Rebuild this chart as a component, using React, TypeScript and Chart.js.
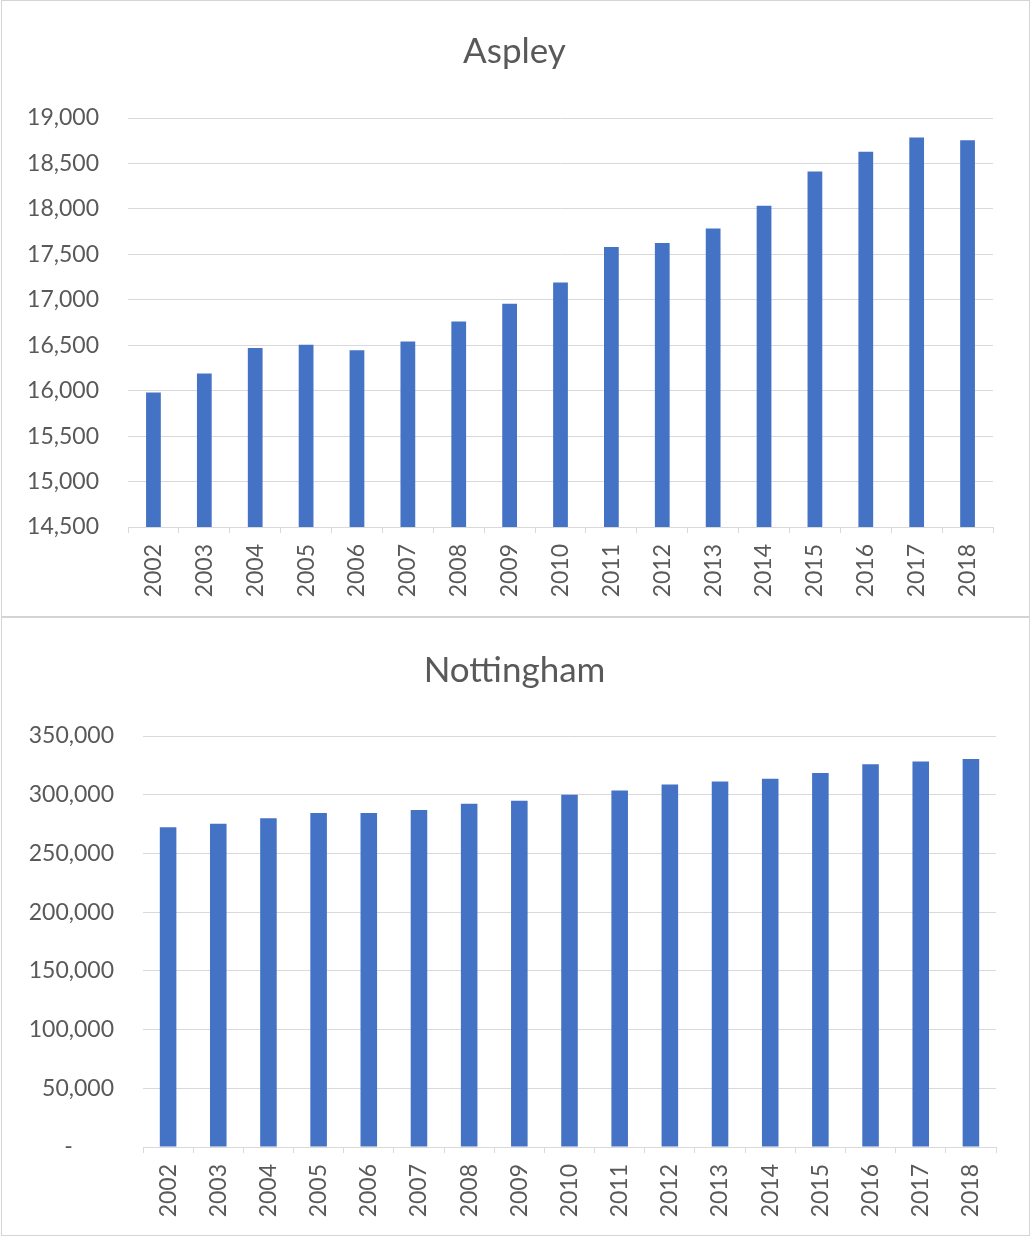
import React, { useEffect, useRef } from "react";
import { Chart, registerables } from "chart.js";

Chart.register(...registerables);

// Mid-year population estimates, 2002–2018
const years = [
  "2002", "2003", "2004", "2005", "2006", "2007", "2008", "2009", "2010",
  "2011", "2012", "2013", "2014", "2015", "2016", "2017", "2018",
];

const aspleyPopulation = [
  15980, 16190, 16470, 16505, 16445, 16540, 16760, 16955, 17190,
  17580, 17625, 17785, 18035, 18410, 18630, 18785, 18755,
];

const nottinghamPopulation = [
  272300, 275200, 279900, 284500, 284500, 287000, 292400, 294900, 300000,
  303600, 308700, 311300, 313600, 318400, 326000, 328200, 330500,
];

// Value-axis ranges: [min, max, step]
const aspleyAxis = [14500, 19000, 500];
const nottinghamAxis = [0, 350000, 50000];

const FONT = "Lato, 'Open Sans', sans-serif";
const TEXT = "#595959";
const GRID = "#d9d9d9";
const BAR = "#4472c4";

type Props = {
  title: string;
  values: number[];
  axis: number[];
  left: number;
  top: number;
  width: number;
  height: number;
  yWidth: number;
  padRight: number;
  plotTop: number;
  axisHeight: number;
  titleY: number;
  barPct: number;
};

// Chart title centred on the whole canvas rather than on the padded layout box
const centredTitle = {
  id: "centredTitle",
  afterDraw(chart: any, _args: any, opts: any) {
    const { ctx, width } = chart;
    ctx.save();
    ctx.font = `normal 35px ${FONT}`;
    ctx.fillStyle = TEXT;
    ctx.textAlign = "center";
    ctx.textBaseline = "middle";
    ctx.fillText(opts.text, width / 2, opts.y);
    ctx.restore();
  },
};

function PopulationChart(p: Props) {
  const ref = useRef<HTMLCanvasElement | null>(null);

  useEffect(() => {
    if (!ref.current) return;
    const [min, max, step] = p.axis;
    const tickFont = { family: FONT, size: 23 };
    const chart = new Chart(ref.current, {
      type: "bar",
      data: {
        labels: years,
        datasets: [
          {
            data: p.values,
            backgroundColor: BAR,
            borderWidth: 0,
            barPercentage: p.barPct,
            categoryPercentage: 1,
          },
        ],
      },
      options: {
        responsive: false,
        animation: false,
        layout: { padding: { left: 0, right: p.padRight, top: p.plotTop, bottom: 0 } },
        plugins: {
          legend: { display: false },
          tooltip: { enabled: false },
          title: { display: false },
          centredTitle: { text: p.title, y: p.titleY },
        },
        scales: {
          x: {
            grid: {
              display: true,
              drawOnChartArea: false,
              drawTicks: true,
              tickLength: 6,
              color: GRID,
            },
            border: { display: true, color: GRID },
            ticks: {
              autoSkip: false,
              minRotation: 90,
              maxRotation: 90,
              padding: 11,
              color: TEXT,
              font: tickFont,
            },
            afterFit: (s: any) => {
              s.height = p.axisHeight;
            },
          },
          y: {
            min,
            max,
            grid: { color: GRID, drawTicks: false },
            border: { display: false },
            ticks: {
              stepSize: step,
              padding: 29,
              color: TEXT,
              font: tickFont,
              // accounting style: zero shown as a dash
              callback: (v: any) =>
                Number(v) === 0 ? "-       " : Number(v).toLocaleString("en-US"),
            },
            afterFit: (s: any) => {
              s.width = p.yWidth;
            },
          },
        },
      },
      plugins: [centredTitle],
    } as any);
    return () => chart.destroy();
  }, []);

  return (
    <div
      style={{
        position: "absolute",
        left: p.left,
        top: p.top,
        width: p.width + 2,
        height: p.height + 2,
        border: "1px solid #d4d4d4",
        boxSizing: "border-box",
        background: "#fff",
      }}
    >
      <canvas
        ref={ref}
        width={p.width - 2}
        height={p.height - 2}
        style={{ display: "block", width: p.width - 2, height: p.height - 2 }}
      />
    </div>
  );
}

export default function App() {
  return (
    <div
      style={{
        position: "absolute",
        left: 0,
        top: 0,
        width: 1032,
        height: 1236,
        background: "#fff",
      }}
    >
      <PopulationChart
        title="Aspley"
        values={aspleyPopulation}
        axis={aspleyAxis}
        left={1}
        top={0}
        width={1027}
        height={615}
        yWidth={126}
        padRight={34}
        plotTop={117}
        axisHeight={87}
        titleY={51}
        barPct={0.29}
      />
      <PopulationChart
        title="Nottingham"
        values={nottinghamPopulation}
        axis={nottinghamAxis}
        left={1}
        top={617}
        width={1027}
        height={617}
        yWidth={141}
        padRight={31}
        plotTop={118}
        axisHeight={86}
        titleY={53}
        barPct={0.33}
      />
    </div>
  );
}
